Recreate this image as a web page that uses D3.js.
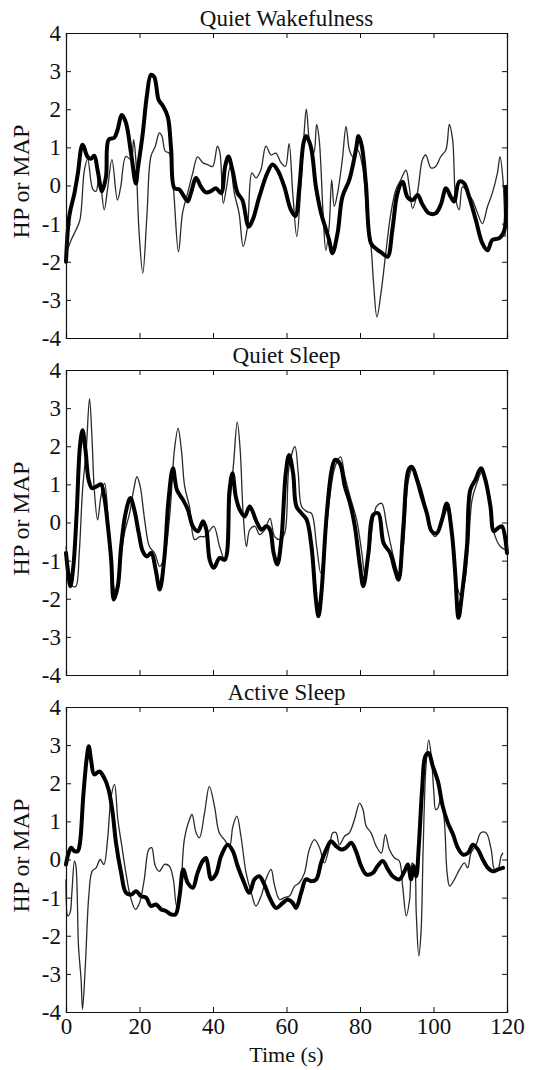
<!DOCTYPE html>
<html>
<head>
<meta charset="utf-8">
<script src="https://cdn.jsdelivr.net/npm/d3@7"></script>
<style>
  html, body { margin: 0; padding: 0; background: #fff; }
  svg { display: block; }
  text { font-family: "Liberation Serif", "Times New Roman", serif; fill: #111; }
</style>
</head>
<body>
<div id="chart"></div>
<script>
// Three stacked panels: HP (thick) and MAP (thin) over 120 s, per sleep state.
const panelTitles = ['Quiet Wakefulness', 'Quiet Sleep', 'Active Sleep'];
const yTicks = [-4, -3, -2, -1, 0, 1, 2, 3, 4];
const xTicks = [0, 20, 40, 60, 80, 100, 120];

// [time (s), value]
const wakeThick = [[0,-2.0],[0.9,-0.8],[2.3,-0.2],[3.2,0.3],[4.5,1.07],[5.9,0.75],[6.8,0.7],[7.7,0.78],[8.6,0.4],[9.8,-0.15],[10.9,0.25],[11.6,1.2],[13.1,1.25],[14,1.45],[15.2,1.85],[16.3,1.65],[17.7,0.85],[19,0.05],[19.5,0.4],[20.9,1.38],[22,2.35],[23.1,2.9],[24,2.85],[25.2,2.25],[26.3,2.1],[27.7,1.8],[28.6,0.95],[29.5,-0.07],[30.8,-0.1],[32.2,-0.3],[33.1,-0.42],[34,-0.2],[35.4,0.2],[36.7,-0.03],[38.1,-0.18],[39.4,-0.15],[40.8,-0.07],[42.2,-0.2],[43.3,0.5],[44.2,0.76],[45.3,0.4],[46.7,-0.2],[48,-0.38],[49.7,-1.08],[50.8,-0.9],[52.6,-0.3],[54.8,0.33],[56.2,0.55],[57.6,0.4],[59.4,-0.03],[61.2,-0.64],[62.4,-0.8],[63.5,-0.03],[64.6,1.1],[65.3,1.3],[66.6,1.03],[68,-0.03],[69.4,-0.72],[70.5,-1.08],[71.6,-1.43],[72.5,-1.78],[73.9,-1.25],[75.2,-0.3],[77.1,0.15],[78.9,0.94],[79.6,1.3],[80.5,1.03],[81.6,0.06],[83,-1.52],[84.3,-1.65],[86.1,-1.78],[87.5,-1.87],[88.8,-1.17],[90.2,-0.2],[91.6,0.1],[92.9,-0.3],[94.3,-0.38],[95.7,-0.25],[97,-0.5],[98.8,-0.73],[100.6,-0.73],[102,-0.5],[103.4,-0.07],[104.7,-0.3],[105.6,-0.42],[107,0.1],[108.3,0.06],[109.7,-0.3],[111.5,-0.9],[113.3,-1.52],[114.7,-1.7],[116,-1.43],[117.9,-1.38],[119.2,-1.2],[119.7,-0.03]];
const wakeThin = [[0,-1.8],[1.4,-1.43],[2.7,-1.17],[3.8,-0.9],[5,0.4],[5.9,0.7],[7.3,-0.1],[8.2,-0.15],[9,0.33],[10.4,-0.64],[11.3,-0.1],[12.5,0.68],[14,-0.38],[14.9,-0.03],[16.3,0.76],[17.7,0.68],[18.4,1.2],[19,0.68],[19.9,-1.25],[20.9,-2.3],[22,-0.82],[23.1,0.76],[24.3,1.03],[25.4,1.38],[26.1,1.3],[27,0.9],[28.1,0.85],[29.2,-0.03],[30.6,-1.74],[31.7,-0.73],[33.1,-0.2],[34.5,0.33],[35.8,0.75],[37.2,0.6],[38.5,0.55],[39.9,0.5],[41.2,1.03],[41.9,0.85],[42.8,-0.47],[43.7,-0.03],[44.7,0.5],[45.8,-0.2],[47.1,-0.73],[48.2,-1.6],[49.4,-1.08],[50.6,0.33],[51.7,0.2],[53,0.4],[54.4,1.03],[55.8,0.8],[57.1,0.85],[58.5,0.6],[59.7,0.5],[60.7,1.1],[61.7,-0.2],[62.8,-1.34],[63.9,-0.03],[64.8,1.38],[65.4,2.0],[66.6,0.94],[67.4,0.85],[68.2,1.6],[68.9,1.2],[70,-0.82],[70.7,-1.7],[71.6,-1.08],[72.3,0.15],[73,-0.55],[73.9,-0.2],[75.2,0.68],[76.2,1.55],[77.1,0.94],[78,0.76],[79.3,0.94],[80.7,0.5],[82,-0.9],[83,-1.6],[83.7,-2.57],[84.6,-3.45],[85.7,-2.83],[87,-1.78],[88.4,-0.73],[89.8,-0.1],[91.1,0.15],[92.5,0.4],[93.4,-0.03],[94.3,-0.6],[95.6,-0.2],[97,0.68],[97.9,0.8],[99.3,0.46],[100.6,0.5],[102,0.76],[103.4,0.94],[104.3,1.6],[105.2,1.2],[106.1,-0.38],[107,-0.64],[107.9,-0.03],[109.3,-0.2],[110.6,-0.38],[112,-0.73],[113.3,-1.0],[114.7,-0.55],[116,-0.2],[117.4,0.33],[118.1,0.76],[118.9,0.15],[119.5,-1.35]];

const quietThick = [[0,-0.8],[0.6,-1.32],[1.2,-1.67],[2,-1.15],[2.9,0.24],[3.8,2.0],[4.5,2.42],[5.3,1.9],[6.2,1.1],[7.1,0.9],[8.2,0.94],[9.5,1.0],[10.4,0.68],[11.4,-0.1],[12.3,-0.98],[13,-2.02],[14.1,-1.67],[15,-0.63],[16.2,0.24],[17.5,0.64],[18.6,0.33],[19.8,-0.28],[20.9,-0.76],[22,-0.89],[23.2,-0.8],[24.4,-1.24],[25.5,-1.76],[26.8,-0.89],[27.9,0.6],[29.1,1.42],[30.2,0.85],[31.8,0.6],[33.2,0.33],[34.5,-0.1],[35.9,-0.23],[37.3,0.03],[38.2,-0.19],[39.1,-0.98],[40.2,-1.19],[41.8,-0.93],[43.2,-0.98],[44.5,0.85],[45.3,1.29],[46.2,0.68],[47.3,0.33],[48.6,0.16],[50,0.42],[51.8,0.03],[53.2,-0.19],[54.5,-0.1],[55.5,-0.19],[56.5,-0.8],[57.5,-1.1],[58.6,-0.45],[59.8,1.29],[60.7,1.77],[61.8,1.29],[62.7,0.42],[64.1,0.24],[65.5,0.07],[66.8,-0.63],[68,-2.02],[68.7,-2.46],[69.5,-1.85],[70.9,0.16],[72.3,1.38],[73.2,1.64],[74.5,1.55],[75.9,0.94],[77.3,0.5],[78.6,-0.1],[80,-1.15],[80.9,-1.67],[82.3,-0.8],[83.6,0.2],[85,0.24],[86.4,-0.54],[88.2,-0.8],[89.5,-1.24],[90.5,-1.5],[91.8,-0.1],[93.2,1.38],[94.1,1.46],[95.5,1.12],[96.8,0.68],[98.2,0.24],[99.5,-0.23],[100.9,-0.28],[102.3,0.07],[103.6,0.5],[105,-0.28],[105.9,-1.32],[106.8,-2.5],[107.7,-1.93],[109.1,-0.63],[110,0.85],[111.4,1.12],[112.9,1.42],[114.1,1.12],[115.5,0.42],[116.4,-0.23],[117.5,-0.15],[118.6,-0.1],[120,-0.8]];
const quietThin = [[0,-0.63],[0.9,-1.32],[1.8,-1.67],[2.7,-1.67],[3.6,-0.8],[4.5,0.85],[5.5,1.9],[6.4,3.25],[7.1,2.16],[7.7,0.85],[8.6,0.07],[9.5,0.68],[10.5,1.03],[11.4,0.16],[12.3,-1.15],[13.5,-1.85],[14.5,-1.24],[15.9,-0.28],[17.3,0.24],[18.4,0.85],[19.3,1.2],[20.2,0.94],[21.4,0.07],[22.7,-0.63],[24.1,-0.8],[25.5,-1.15],[26.8,-0.89],[28.2,0.16],[29.5,1.9],[30.5,2.47],[31.4,1.9],[32.3,0.94],[33.6,0.42],[35,-0.45],[36.4,-0.37],[37.7,-0.37],[38.6,-0.28],[40.2,-0.1],[41.8,-0.63],[43.2,-0.98],[44.5,0.42],[45.6,1.55],[46.6,2.64],[47.4,1.9],[48.2,0.24],[49.1,-0.63],[50,-0.19],[51.4,-0.1],[52.7,-0.32],[54.1,-0.19],[55.5,0.11],[56.8,-0.37],[58.2,-0.45],[59.5,-0.28],[60.7,1.46],[62.3,1.99],[63.2,1.29],[64.1,0.42],[65.5,0.29],[66.8,0.24],[68.2,-0.63],[69.3,-1.32],[70.2,-0.8],[71.8,0.68],[73.2,1.46],[74.7,1.72],[75.9,1.2],[77.3,0.68],[79.1,0.07],[80.5,-0.8],[81.4,-1.41],[82.7,-0.63],[84.5,0.42],[85.9,0.5],[87.3,-0.1],[89.1,-0.89],[90.5,-1.32],[91.8,-0.63],[93.2,1.12],[94.5,1.46],[95.9,1.12],[97.3,0.68],[99.1,-0.19],[100.5,-0.37],[101.8,-0.1],[103.2,0.24],[104.1,0.5],[105.3,-0.45],[106.4,-1.67],[107.5,-1.93],[108.6,-1.5],[109.5,-0.63],[110.5,0.6],[111.8,1.03],[113.2,1.33],[114.4,1.12],[115.5,0.24],[116.8,-0.37],[118.2,-0.63],[119.5,-0.71]];

const activeThick = [[0,-0.13],[0.7,0.17],[1.4,0.31],[2.3,0.22],[3.2,0.22],[3.8,0.44],[4.7,1.66],[5.6,2.62],[6.2,2.97],[6.8,2.62],[7.7,2.23],[9.1,2.31],[10.4,2.14],[11.6,1.83],[12.7,1.22],[13.6,0.44],[15,-0.35],[16.3,-0.87],[17.7,-0.92],[19.1,-0.83],[20.4,-0.96],[21.8,-1.0],[23.1,-1.22],[24.5,-1.18],[25.9,-1.31],[27.2,-1.35],[28.6,-1.44],[29.8,-1.44],[30.9,-0.96],[31.9,-0.26],[33.1,-0.61],[34.5,-0.74],[35.8,-0.35],[37.2,-0.04],[38.1,0.04],[39.5,-0.52],[40.8,-0.39],[42.2,0.09],[44,0.39],[45.4,0.22],[46.7,-0.17],[48.1,-0.52],[49.9,-0.87],[51.3,-0.52],[52.6,-0.44],[54,-0.66],[55.4,-1.0],[57.2,-1.27],[59,-1.14],[60.3,-1.05],[61.7,-1.14],[62.6,-1.27],[64,-0.87],[65.3,-0.52],[66.7,-0.57],[68.1,-0.52],[69.4,-0.09],[70.8,0.26],[72.1,0.48],[73.5,0.35],[74.9,0.26],[76.2,0.31],[77.6,0.44],[78.9,0.22],[80.3,-0.17],[81.7,-0.39],[83.5,-0.35],[84.8,-0.17],[86.2,-0.04],[87.6,-0.26],[88.9,-0.44],[90.7,-0.52],[92.1,-0.31],[93,-0.13],[93.9,-0.52],[94.6,-0.17],[95.3,-0.44],[96,0.35],[96.9,1.83],[97.8,2.71],[98.7,2.79],[99.8,2.45],[101.2,2.05],[102.5,1.4],[103.9,0.96],[105.3,0.66],[106.6,0.31],[108,0.13],[109.4,0.17],[110.7,0.39],[112.1,0.26],[113.4,0],[114.8,-0.22],[116.2,-0.31],[117.6,-0.26],[118.9,-0.22]];
const activeThin = [[0,-0.52],[0.5,-1.48],[1.1,-1.4],[1.6,-0.87],[2.3,-0.04],[2.7,-0.17],[3.4,-2.27],[4.1,-3.14],[4.5,-3.93],[5.3,-2.71],[6.2,-0.96],[7.1,-0.31],[8.2,-0.22],[9.3,0],[10.3,-0.13],[11.3,0.52],[12.3,1.66],[13.2,1.97],[14.1,1.05],[15.2,0.35],[16.3,-0.35],[17.5,-0.96],[18.9,-1.31],[20,-1.14],[21.3,-0.52],[22.5,0.26],[23.3,0.31],[24.3,-0.17],[25.4,-0.31],[26.8,-0.13],[28.1,-0.17],[29.2,-0.52],[30.1,-1.22],[31,-0.96],[32.2,0.52],[33.6,1.05],[34.3,1.18],[35.4,0.7],[36.3,0.57],[37.7,1.22],[39,1.92],[40.4,1.4],[41.7,0.7],[43.1,0.52],[44.5,0.35],[45.4,0.87],[46.5,1.14],[47.6,0.61],[49,-0.35],[50.4,-0.87],[51.7,-1.22],[53.1,-0.96],[54.4,-0.52],[55.8,-0.26],[56.7,-0.66],[58.1,-1.05],[59.4,-1.0],[60.8,-0.96],[62.2,-0.7],[63.5,-0.61],[64.9,-0.35],[66.2,0.26],[67.6,0.52],[69,0.31],[70.3,-0.09],[71.7,0.35],[72.6,0.7],[73.5,0.7],[74.4,0.39],[75.8,0.61],[77.1,0.7],[78.5,1.05],[79.9,1.48],[80.8,1.31],[81.7,0.87],[83,0.7],[84.4,0.35],[85.8,0.17],[86.9,0.66],[88,0.26],[89.4,0.04],[90.7,-0.04],[91.6,-0.7],[92.6,-1.48],[93.5,-1.05],[94.2,-0.09],[94.8,-0.17],[95.3,-1.4],[96,-2.53],[96.6,-1.92],[97.2,0.35],[97.9,2.36],[98.7,3.14],[99.4,2.71],[100.1,1.75],[100.6,1.31],[101.2,1.35],[102.1,1.66],[103,0.96],[103.7,-0.35],[104.4,-0.7],[105.7,-0.52],[107.1,-0.26],[108.4,-0.09],[109.3,-0.22],[110.2,0.17],[111.6,0.39],[112.9,0.7],[114.3,0.7],[115.7,0.26],[116.6,-0.26],[117.5,-0.26],[118.4,0.09],[118.9,0.17]];

const panels = [
  { title: panelTitles[0], thick: wakeThick, thin: wakeThin },
  { title: panelTitles[1], thick: quietThick, thin: quietThin },
  { title: panelTitles[2], thick: activeThick, thin: activeThin },
];

const W = 546, H = 1070;
const left = 66, right = 507;
const tops = [33, 370, 707];
const plotH = 305;
const serif = '"Liberation Serif", "Times New Roman", serif';

const svg = d3.select('#chart').append('svg')
  .attr('width', W).attr('height', H);

const x = d3.scaleLinear().domain([0, 120]).range([left, right]);

panels.forEach((p, i) => {
  const top = tops[i];
  const y = d3.scaleLinear().domain([-4, 4]).range([top + plotH, top]);
  const g = svg.append('g');

  const line = d3.line()
    .x(d => x(d[0]))
    .y(d => y(d[1]))
    .curve(d3.curveCatmullRom.alpha(0.5));

  g.append('path').datum(p.thin)
    .attr('d', line).attr('fill', 'none')
    .attr('stroke', '#2a2a2a').attr('stroke-width', 1.3)
    .attr('stroke-linejoin', 'round');

  g.append('path').datum(p.thick)
    .attr('d', line).attr('fill', 'none')
    .attr('stroke', '#000').attr('stroke-width', 4)
    .attr('stroke-linejoin', 'round').attr('stroke-linecap', 'round');

  // axes: inward ticks on every side, box closed; plain hyphen minus like the source
  g.append('g').attr('transform', `translate(${left},0)`)
    .call(d3.axisLeft(y).tickValues(yTicks).tickSize(-5).tickPadding(5).tickFormat(d => String(d)));
  g.append('g').attr('transform', `translate(${right},0)`)
    .call(d3.axisRight(y).tickValues(yTicks).tickSize(-5).tickFormat(''));
  g.append('g').attr('transform', `translate(0,${top})`)
    .call(d3.axisTop(x).tickValues(xTicks).tickSize(-5).tickFormat(''));
  const bottom = g.append('g').attr('transform', `translate(0,${top + plotH})`)
    .call(d3.axisBottom(x).tickValues(xTicks).tickSize(-5).tickPadding(9)
      .tickFormat(i === 2 ? d => String(d) : ''));

  g.selectAll('g').attr('font-family', serif);
  g.selectAll('.domain').attr('stroke', '#111').attr('stroke-width', 1.2);
  g.selectAll('.tick line').attr('stroke', '#111');
  g.selectAll('.tick text').attr('font-size', 23).attr('fill', '#111');
  bottom.selectAll('.tick text').attr('dy', '0.55em');

  svg.append('text')
    .attr('x', (left + right) / 2).attr('y', top - 7)
    .attr('text-anchor', 'middle').attr('font-size', 23)
    .text(p.title);

  svg.append('text')
    .attr('transform', `translate(29,${top + plotH / 2 - 4}) rotate(-90)`)
    .attr('text-anchor', 'middle').attr('font-size', 24)
    .text('HP or MAP');
});

svg.append('text')
  .attr('x', (left + right) / 2).attr('y', 1062)
  .attr('text-anchor', 'middle').attr('font-size', 22)
  .text('Time (s)');
</script>
</body>
</html>
